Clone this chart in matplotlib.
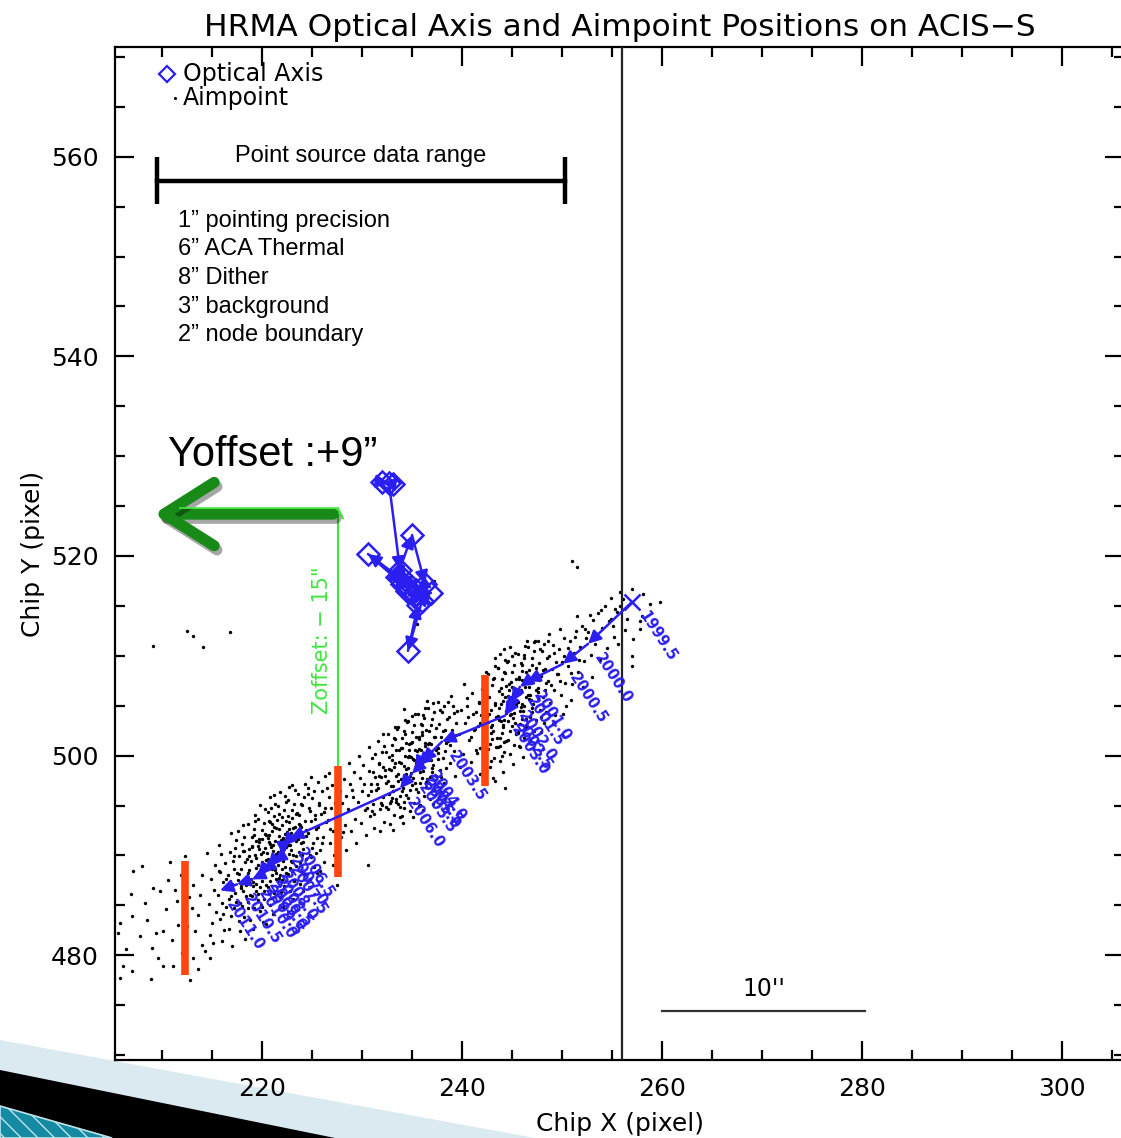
import numpy as np
import matplotlib.pyplot as plt
from matplotlib.patches import Polygon, FancyArrowPatch, ArrowStyle
from matplotlib.ticker import MultipleLocator
from matplotlib import patheffects

BLUE = "#2a1ef0"
RED = "#ff4510"
DGREEN = "#188a18"
LGREEN = "#3fe63f"

# ---------------- aimpoint scatter (chip x, chip y) ----------------
cloud_tail = [(205.8,483.2),(205.6,482.2),(206.1,478.9),(205.8,477.7),(207.0,478.4),(207.1,488.4),(207.0,483.9),
    (208.3,485.2),(208.5,483.5),(209.1,486.7),(209.0,480.7),(209.8,486.4),(209.6,479.7),(210.1,482.4),(210.1,478.9),
    (210.6,487.5),(211.0,481.5),(211.1,478.9),(211.5,485.4),(211.3,486.5),(211.6,483.0),(212.3,489.9),(212.8,477.5),
    (213.1,487.0),(213.0,484.7),(213.3,482.4),(213.1,479.7),(214.0,488.0),(213.8,486.0),(213.6,484.0),(214.0,481.0),
    (214.5,490.2),(214.3,480.4),(214.8,479.7),(206.4,480.6),(207.8,481.9),(208.9,477.6),(210.4,484.6),(212.0,480.2),
    (212.5,482.9),(211.9,488.0),(210.8,489.3),(206.9,486.1),(208.0,488.9),(212.7,485.8),(213.6,478.6),(209.4,482.2)]

cloud_a = [(214.7,485.1),(214.9,487.6),(215.0,483.2),(215.2,486.5),(215.3,489.0),(215.4,484.3),(214.8,482.0),(215.1,481.2),
    (215.6,486.0),(215.7,488.4),(215.8,483.6),(215.9,490.1),(216.0,485.2),(216.1,487.3),(216.2,482.5),(216.3,489.2),
    (216.4,484.8),(216.0,481.4),(215.7,491.0),(216.4,486.6),(216.6,488.0),(216.7,485.6),(216.8,490.3),(216.9,483.9),
    (217.0,487.1),(217.1,489.4),(217.2,484.7),(217.3,486.2),(217.4,491.5),(216.7,482.6),(217.0,480.9),(217.2,488.6),
    (217.4,485.3),(216.9,492.2),(217.6,487.5),(217.7,489.9),(217.8,485.2),(217.9,488.6),(218.0,491.1),(218.1,486.4),
    (218.2,483.8),(218.3,489.3),(218.4,487.0),(217.6,492.4),(217.8,482.4),(218.0,484.9),(218.2,490.4),(218.4,485.9),
    (217.7,488.1),(218.3,481.6),(218.1,493.0),(217.9,486.9),(218.6,488.2),(218.7,490.6),(218.8,486.0),(218.9,489.4),
    (219.0,491.8),(219.1,487.3),(219.2,484.7),(219.3,490.0),(219.4,488.7),(218.6,493.1),(218.8,483.5),(219.0,485.9),
    (219.2,492.6),(219.4,486.4),(218.7,489.9),(219.1,482.6),(219.3,494.0),(218.9,487.6),(219.0,490.9),(219.4,491.4),
    (218.6,485.3),(219.6,489.0),(219.7,491.3),(219.8,486.8),(219.9,490.1),(220.0,492.5),(220.1,488.2),(220.2,485.6),
    (220.3,490.7),(220.4,489.5),(219.6,493.6),(219.8,484.4),(220.0,487.4),(220.2,493.2),(220.4,487.0),(219.7,490.6),
    (220.1,483.3),(220.3,494.6),(219.9,488.6),(220.0,491.6),(220.4,492.0),(219.6,486.1),(220.2,489.1),(219.8,495.1),
    (220.1,490.3),(219.9,485.0),(220.6,489.6),(220.7,492.0),(220.8,487.4),(220.9,490.8),(221.0,493.1),(221.1,488.8),
    (221.2,486.2),(221.3,491.4),(221.4,490.1),(220.6,494.3),(220.8,485.0),(221.0,488.0),(221.2,493.9),(221.4,487.6),
    (220.7,491.3),(221.1,484.1),(221.3,495.2),(220.9,489.3),(221.0,492.4),(221.4,492.7),(220.6,486.8),(221.2,489.9),
    (220.8,495.9),(221.1,491.0),(220.9,485.7),(221.3,488.5),(220.7,493.4),(221.6,490.3),(221.7,492.6),(221.8,488.0),
    (221.9,491.5),(222.0,493.8),(222.1,489.4),(222.2,486.9),(222.3,492.1),(222.4,490.8),(221.6,495.0),(221.8,485.8),
    (222.0,488.6),(222.2,494.5),(222.4,488.2),(221.7,491.9),(222.1,484.8),(222.3,496.0),(221.9,489.9),(222.0,493.0),
    (222.4,493.4),(221.6,487.5),(222.2,490.6),(221.8,496.4),(222.1,491.7),(221.9,486.3),(222.6,491.0),(222.7,493.3),
    (222.8,488.7),(222.9,492.2),(223.0,494.5),(223.1,490.0),(223.2,487.5),(223.3,492.8),(223.4,491.4),(222.6,495.6),
    (222.8,486.4),(223.0,489.3),(223.2,495.2),(223.4,488.9),(222.7,492.6),(223.1,485.6),(223.3,496.6),(222.9,490.5),
    (223.0,493.7),(223.4,494.1),(222.6,488.1),(223.6,491.6),(223.7,494.0),(223.8,489.3),(223.9,492.8),(224.0,495.1),
    (224.1,490.6),(224.2,488.1),(224.3,493.4),(224.4,491.9),(223.6,496.2),(223.8,487.1),(224.0,490.0),(224.2,495.9),
    (224.4,489.6),(223.7,493.1),(224.1,486.4),(224.3,497.2),(223.9,491.2),(224.6,492.2),(224.7,494.7),(224.8,490.0),
    (224.9,493.4),(225.0,495.8),(225.1,491.2),(225.2,488.8),(225.3,494.0),(225.4,492.6),(224.6,496.8),(224.8,487.6),
    (225.0,490.7),(225.2,496.5),(225.4,490.2),(224.9,497.9),(225.6,492.8),(225.7,495.3),(225.8,490.5),(225.9,494.1),
    (226.0,496.5),(226.1,491.8),(226.2,489.3),(226.3,494.7),(226.4,493.3),(225.6,497.4),(225.8,488.4),(226.0,491.2),
    (226.3,498.0),(226.6,493.5),(226.7,495.9),(226.8,491.2),(226.9,494.7),(227.0,497.1),(227.1,492.4),(227.2,490.0),
    (227.3,495.3),(227.4,493.8),(226.7,498.3),(227.1,489.0),(227.6,494.0),(227.8,496.5),(227.9,491.8),(228.0,495.3),
    (228.2,497.7),(228.3,493.0),(228.4,490.5),(227.7,498.6),(228.1,492.3),(228.4,496.0),(228.6,494.6),(228.8,497.2),
    (228.9,492.4),(229.1,495.9),(229.2,498.4),(229.3,493.6),(229.4,491.2),(228.7,499.3),(229.0,496.6)]

cloud_a_core = [(219.35,489.72),(220.83,491.17),(221.57,489.04),(222.46,492.38),(220.12,487.93),(218.74,488.51),
    (221.93,490.66),(223.28,491.85),(220.47,490.29),(219.86,488.08),(222.71,490.12),(221.24,492.83),(218.33,487.36),
    (223.84,493.07),(220.98,488.62),(222.15,491.46),(219.57,490.94),(221.71,487.77),(224.36,492.58),(217.92,486.71),
    (220.31,492.19),(222.92,489.47),(219.08,486.92),(221.46,493.54),(223.52,494.26),(218.97,490.85),(222.33,488.83),
    (220.66,489.14),(224.81,494.47),(217.48,488.26),(221.09,490.48),(219.72,491.66),(223.06,492.71),(220.24,486.44),
    (222.58,493.91),(218.52,489.63),(221.84,491.22),(223.69,490.36),(219.43,487.17),(220.77,493.38),(216.86,485.93),
    (225.27,493.62),(222.04,487.55),(219.15,492.07),(221.35,488.27),(223.91,495.18),(218.09,490.42),(220.58,491.73),
    (222.84,491.03),(219.98,489.36),(225.73,495.02),(216.42,487.64),(221.66,494.11),(224.12,491.38),(220.03,484.86),
    (222.39,495.37),(218.61,484.72),(223.37,489.96),(217.15,489.91),(226.18,494.34),(219.26,493.48),(221.98,485.92),
    (224.58,496.14),(216.08,484.16),(222.67,496.82),(220.88,494.77),(218.22,491.86),(223.15,487.42),(225.46,491.76),
    (217.71,483.42),(226.52,496.71),(219.64,485.58),(221.18,496.03),(224.93,489.81),(215.79,488.35),(222.95,497.10),
    (217.33,490.72),(226.83,492.68),(220.39,483.11),(223.98,488.36)]

cloud_b = [(229.6,495.4),(229.8,497.8),(229.9,493.2),(230.0,496.5),(230.1,499.1),(230.3,494.5),(230.4,492.0),(229.7,500.0),
    (230.2,497.2),(230.6,496.1),(230.7,498.5),(230.8,493.9),(230.9,497.2),(231.0,499.8),(231.1,495.2),(231.2,492.7),
    (231.3,497.9),(231.4,496.6),(230.7,500.9),(231.0,494.4),(231.3,500.2),(231.6,496.8),(231.7,499.2),(231.8,494.6),
    (231.9,497.9),(232.0,500.4),(232.1,495.9),(232.2,493.3),(232.3,498.6),(232.4,497.3),(231.6,501.5),(231.8,492.4),
    (232.0,495.1),(232.2,501.0),(232.4,494.8),(231.7,498.0),(232.1,502.2),(232.6,497.5),(232.7,499.9),(232.8,495.3),
    (232.9,498.6),(233.0,501.1),(233.1,496.5),(233.2,494.0),(233.3,499.3),(233.4,498.0),(232.6,502.2),(232.8,493.1),
    (233.0,495.8),(233.2,501.8),(233.4,495.4),(232.7,498.7),(233.1,492.5),(233.3,502.9),(232.9,497.0),(233.0,500.1),
    (233.4,500.6),(233.6,498.2),(233.7,500.6),(233.8,496.0),(233.9,499.3),(234.0,501.8),(234.1,497.2),(234.2,494.7),
    (234.3,500.0),(234.4,498.7),(233.6,502.9),(233.8,493.8),(234.0,496.5),(234.2,502.5),(234.4,496.1),(233.7,499.4),
    (234.1,493.2),(234.3,503.6),(233.9,497.7),(234.0,500.8),(234.4,501.3),(233.6,495.2),(234.2,499.0),(234.6,498.8),
    (234.7,501.2),(234.8,496.6),(234.9,499.9),(235.0,502.4),(235.1,497.8),(235.2,495.3),(235.3,500.6),(235.4,499.3),
    (234.6,503.5),(234.8,494.4),(235.0,497.1),(235.2,503.1),(235.4,496.7),(234.7,500.0),(235.1,493.8),(235.3,504.2),
    (234.9,498.3),(235.0,501.4),(235.4,501.9),(234.6,495.8),(235.2,499.6),(235.6,499.5),(235.7,501.9),(235.8,497.3),
    (235.9,500.6),(236.0,503.1),(236.1,498.5),(236.2,496.0),(236.3,501.3),(236.4,500.0),(235.6,504.2),(235.8,495.1),
    (236.0,497.8),(236.2,503.8),(236.4,497.4),(235.7,500.7),(236.1,494.5),(236.3,504.8),(235.9,499.0),(236.0,502.1),
    (236.4,502.6),(236.6,500.1),(236.7,502.5),(236.8,497.9),(236.9,501.2),(237.0,503.7),(237.1,499.1),(237.2,496.6),
    (237.3,501.9),(237.4,500.6),(236.6,504.8),(236.8,495.7),(237.0,498.4),(237.2,504.4),(237.4,498.0),(236.7,501.3),
    (237.1,495.2),(236.9,499.6),(237.6,500.8),(237.7,503.2),(237.8,498.6),(237.9,501.9),(238.0,504.4),(238.1,499.8),
    (238.2,497.3),(238.3,502.6),(238.4,501.3),(237.6,505.4),(237.9,496.4),(238.2,505.0),(238.4,498.8),(238.6,501.5),
    (238.7,503.9),(238.8,499.3),(239.0,502.6),(239.1,505.0),(239.2,500.5),(239.3,498.0),(239.4,503.3),(238.9,506.0),
    (239.2,502.0),(239.7,502.2),(239.9,504.6),(240.1,500.2),(240.3,503.3),(240.5,505.8),(240.7,501.6),(240.9,499.4),
    (241.1,504.2),(241.3,502.7),(240.2,507.2),(241.0,506.3),(240.6,503.9),(241.4,500.6),(239.8,498.9),(240.5,505.0),
    (239.5,504.5)]

cloud_b_core = [(235.14,499.62),(234.37,498.11),(236.28,500.93),(233.62,497.44),(235.83,498.37),(234.91,501.28),
    (236.71,499.52),(233.18,498.86),(235.47,500.46),(234.06,496.78),(237.24,501.84),(232.74,496.15),(235.96,502.37),
    (234.62,499.89),(236.49,497.63),(233.89,500.72),(237.63,500.28),(232.31,497.93),(235.29,497.21),(234.28,502.14),
    (236.93,503.06),(233.41,495.68),(238.12,502.47),(231.86,495.27),(235.71,501.63),(234.83,497.94),(237.02,498.75),
    (232.97,499.56),(236.14,504.02),(233.75,494.84),(238.46,503.71),(231.52,497.16),(235.58,496.36),(234.49,503.35),
    (237.37,502.73),(232.55,494.62),(236.62,501.19),(233.27,501.67),(238.83,501.06),(231.24,494.17),(235.02,503.92),
    (234.15,495.32),(237.81,504.59),(232.13,498.84),(236.37,496.84),(233.54,502.71),(239.18,504.23),(230.87,496.48),
    (235.38,498.93),(234.72,500.52),(236.83,500.04),(233.08,496.97),(237.56,499.67),(232.42,500.34),(236.03,499.11),
    (234.54,497.36),(238.27,500.48),(231.71,499.22),(235.87,503.18),(233.96,493.96),(237.14,505.27),(232.86,495.43),
    (239.42,502.11),(230.53,494.79),(236.45,505.46),(234.23,504.63),(238.61,505.38),(231.07,498.34),(235.66,494.92),
    (237.93,497.82)]

cloud_c = [(241.6,503.0),(241.7,505.4),(241.8,500.8),(241.9,504.1),(242.0,506.7),(242.1,502.0),(242.2,499.4),(242.3,504.8),
    (242.4,507.8),(241.8,498.2),(242.6,503.4),(242.7,505.9),(242.8,501.2),(242.9,504.6),(243.0,507.1),(243.1,502.5),
    (243.2,499.8),(243.3,505.3),(243.4,503.9),(242.6,508.2),(242.8,498.9),(243.0,501.7),(243.2,507.8),(243.4,500.9),
    (242.7,504.2),(243.1,497.8),(243.3,509.0),(242.9,502.9),(243.6,504.0),(243.7,506.5),(243.8,501.8),(243.9,505.2),
    (244.0,507.7),(244.1,503.1),(244.2,500.4),(244.3,505.9),(244.4,504.5),(243.6,508.8),(243.8,499.5),(244.0,502.3),
    (244.2,508.4),(244.4,501.5),(243.7,504.8),(244.1,498.4),(244.3,509.6),(243.9,503.5),(244.0,506.2),(244.4,507.0),
    (243.6,500.9),(244.2,503.6),(243.8,510.2),(244.1,505.5),(244.6,504.7),(244.7,507.2),(244.8,502.5),(244.9,505.9),
    (245.0,508.4),(245.1,503.8),(245.2,501.1),(245.3,506.6),(245.4,505.2),(244.6,509.5),(244.8,500.2),(245.0,503.0),
    (245.2,509.1),(245.4,502.2),(244.7,505.5),(245.1,499.2),(245.3,510.3),(244.9,504.2),(245.0,506.9),(245.4,507.7),
    (244.6,501.6),(245.2,504.3),(244.8,510.9),(245.1,506.2),(245.6,505.4),(245.7,507.9),(245.8,503.2),(245.9,506.6),
    (246.0,509.1),(246.1,504.5),(246.2,501.8),(246.3,507.3),(246.4,505.9),(245.6,510.2),(245.8,500.9),(246.0,503.7),
    (246.2,509.8),(246.4,502.9),(245.7,506.2),(246.1,499.9),(246.3,511.0),(245.9,504.9),(246.0,507.6),(246.4,508.4),
    (245.6,502.3),(246.2,505.0),(246.6,506.1),(246.7,508.6),(246.8,503.9),(246.9,507.3),(247.0,509.8),(247.1,505.2),
    (247.2,502.5),(247.3,508.0),(247.4,506.6),(246.6,510.9),(246.8,501.6),(247.0,504.4),(247.2,510.5),(247.4,503.6),
    (246.7,506.9),(247.1,500.8),(246.9,505.6),(247.3,511.5),(247.6,506.8),(247.7,509.3),(247.8,504.6),(247.9,508.0),
    (248.0,510.5),(248.1,505.9),(248.2,503.3),(248.3,508.7),(248.4,507.3),(247.6,511.5),(247.9,502.4),(248.2,511.2),
    (248.4,504.4),(247.7,507.6),(248.6,507.5),(248.7,510.0),(248.8,505.3),(249.0,508.7),(249.1,511.1),(249.2,506.6),
    (249.3,504.1),(249.4,509.4),(248.7,512.2),(249.1,503.2),(249.6,508.2),(249.7,510.7),(249.9,506.1),(250.0,509.4),
    (250.2,511.8),(250.3,507.3),(250.4,505.0),(249.8,512.7),(250.1,504.2),(250.6,509.0),(250.8,511.5),(251.0,507.2),
    (251.2,510.3),(251.4,512.5),(251.6,508.4),(251.8,510.9),(252.0,513.0),(252.2,509.5),(252.4,511.8),(250.9,505.6),
    (252.1,506.9),(251.5,514.0),(252.6,512.4),(252.9,510.1),(253.1,513.6),(253.3,511.2),(253.6,514.3),(253.8,509.6),
    (254.0,512.8),(254.3,515.0),(254.5,510.8),(254.7,513.5),(253.0,507.9),(254.9,515.8)]

cloud_c_core = [(245.12,505.63),(244.36,504.27),(246.28,506.84),(243.71,503.52),(245.84,504.48),(244.93,507.36),
    (246.72,505.72),(243.26,505.04),(245.47,506.52),(244.08,502.86),(247.21,507.93),(242.87,502.24),(245.96,508.44),
    (244.61,505.97),(246.43,503.69),(243.94,506.78),(247.62,506.37),(242.48,504.01),(245.31,503.28),(244.27,508.26),
    (246.97,509.12),(243.47,501.73),(248.14,508.53),(242.06,501.35),(245.72,507.69),(244.82,504.02),(247.03,504.81),
    (243.11,507.64),(246.15,510.08),(243.78,500.92),(248.47,509.77),(241.82,503.22),(245.59,502.41),(244.52,509.42),
    (247.38,508.79),(242.64,500.68),(246.61,507.26),(243.32,509.74),(248.86,507.12),(241.53,500.24),(245.04,509.98),
    (244.17,501.39),(247.82,510.65),(242.29,506.91),(246.36,502.89),(243.58,508.77),(249.21,510.29),(241.17,502.55),
    (245.39,504.99),(244.73,506.58),(246.84,506.11),(243.04,503.04),(247.56,505.73),(242.41,508.41),(246.04,505.17),
    (244.57,503.42),(248.28,506.55),(241.73,505.28),(245.88,509.23),(243.96,500.01),(247.15,511.34),(242.92,499.47),
    (249.46,508.18),(240.93,501.87),(246.47,511.52),(244.24,510.71),(248.63,511.44),(241.35,504.39),(245.66,500.98),
    (247.94,503.87),(250.57,510.82),(251.33,511.90),(249.82,507.48),(252.26,512.71),(250.18,509.93),(251.74,509.62),
    (253.42,512.16),(252.81,514.06),(250.93,508.27),(253.94,514.62)]

cloud_end = [(255.8,516.4),(257.0,516.7),(258.1,516.2),(259.8,515.4),(258.8,515.2),(258.0,514.0),(257.8,512.7),
    (257.1,511.7),(257.0,510.0),(257.0,509.0),(255.5,514.4),(255.1,513.0),(255.8,515.0),(256.1,515.7),(254.9,513.7),
    (255.3,514.7),(257.8,513.5),(256.5,513.7),(255.6,511.2),(256.3,512.6),(255.2,511.9)]

cloud_stray = [(251.0,519.5),(251.5,518.9),(209.1,511.0),(212.5,512.5),(213.1,512.0),(214.1,510.9),(216.8,512.4),
    (237.2,517.5),(235.5,513.2),(243.3,497.5),(244.3,496.8),(230.6,489.0),(227.5,487.0),(225.5,488.2)]

# ---------------- aimpoint track (half-year epochs) ----------------
track_epochs = ["1999.5", "2000.0", "2000.5", "2001.0", "2001.5", "2002.0", "2002.5", "2003.0",
                "2003.5", "2004.0", "2004.5", "2005.0", "2005.5", "2006.0", "2006.5", "2007.0",
                "2007.5", "2008.0", "2008.5", "2009.0", "2009.5", "2010.0", "2010.5", "2011.0"]
track_x = [257.0, 252.6, 250.1, 246.5, 245.8, 245.0, 244.6, 244.3, 238.0, 236.0, 235.6, 235.4,
           235.0, 233.8, 222.8, 222.1, 222.1, 221.1, 220.6, 220.0, 219.6, 219.0, 217.5, 215.8]
track_y = [515.4, 511.2, 509.2, 507.4, 506.9, 505.4, 504.5, 504.0, 501.4, 499.4, 499.0, 498.6,
           498.2, 496.7, 491.7, 490.9, 490.0, 489.4, 488.8, 488.4, 487.9, 487.6, 487.1, 486.5]

# ---------------- optical axis positions ----------------
oa_x = [233.1, 232.0, 232.7, 233.8, 234.3, 233.5, 235.0, 236.3, 235.4, 230.6, 234.0,
        234.8, 236.0, 234.6, 235.6, 236.9, 235.2, 234.5]
oa_y = [527.2, 527.4, 527.3, 518.6, 517.6, 517.9, 522.1, 517.2, 516.6, 520.2, 517.2,
        516.7, 515.5, 510.5, 515.1, 516.3, 516.0, 516.5]

# ---------------- annotations ----------------
bar_x = [212.3, 227.6, 242.3]
bar_lo = [478.0, 487.8, 497.0]
bar_hi = [489.4, 499.0, 508.1]
range_x = [209.5, 250.3]
range_y = 557.6
budget_lines = ["1\u201d pointing precision", "6\u201d ACA Thermal", "8\u201d Dither",
                "3\u201d background", "2\u201d node boundary"]
optical_line_x = 256.0
scale_x = [260.0, 280.3]
scale_y = 474.4

fig = plt.figure(figsize=(11.21, 11.38), dpi=100)

# slide decoration in the lower-left corner (pixel coordinates of the slide)
W, H = 1121.0, 1138.0
def fpoly(pts, **kw):
    p = Polygon([(x / W, 1 - y / H) for x, y in pts], closed=True, transform=fig.transFigure, zorder=-5, **kw)
    fig.patches.append(p)
fpoly([(0, 1040), (535, 1138), (0, 1138)], facecolor="#dbe9f1", edgecolor="none")
fpoly([(0, 1070), (335, 1138), (0, 1138)], facecolor="#000000", edgecolor="none")
fpoly([(0, 1106), (112, 1138), (0, 1138)], facecolor="#158aa3", edgecolor="#bfe3ea", lw=1.2, hatch="\\\\")

ax = fig.add_axes([115 / W, 78 / H, (1124 - 115) / W, (1060 - 47) / H])
ax.set_facecolor("white")
ax.set_xlim(205.3, 306.2)
ax.set_ylim(469.5, 571.0)

for s in ax.spines.values():
    s.set_linewidth(1.6)
ax.xaxis.set_major_locator(MultipleLocator(20))
ax.xaxis.set_minor_locator(MultipleLocator(5))
ax.yaxis.set_major_locator(MultipleLocator(20))
ax.yaxis.set_minor_locator(MultipleLocator(5))
ax.tick_params(which="both", direction="in", top=True, right=True, width=1.6, labelsize=18)
ax.tick_params(which="major", length=14, pad=12)
ax.tick_params(which="minor", length=7)
ax.set_xlabel("Chip X (pixel)", fontsize=18, labelpad=8)
ax.set_ylabel("Chip Y (pixel)", fontsize=18, labelpad=4)
ax.set_title("HRMA Optical Axis and Aimpoint Positions on ACIS\u2212S", fontsize=22.5, pad=8)

# scatter cloud
for cl in (cloud_tail, cloud_a, cloud_a_core, cloud_b, cloud_b_core, cloud_c, cloud_c_core, cloud_end, cloud_stray):
    cx, cy = zip(*cl)
    ax.scatter(cx, cy, s=6, c="black", linewidths=0, zorder=2)

ax.axvline(optical_line_x, color="#222222", lw=1.6, zorder=3)

# red node-boundary bars
ax.vlines(bar_x, bar_lo, bar_hi, color=RED, lw=5.5, zorder=4)

# aimpoint track with arrowheads
for i in range(len(track_x) - 1):
    ax.annotate("", xy=(track_x[i + 1], track_y[i + 1]), xytext=(track_x[i], track_y[i]),
                arrowprops=dict(arrowstyle="-|>", color=BLUE, lw=1.8, mutation_scale=19,
                                shrinkA=0, shrinkB=0), zorder=5)
ax.plot(track_x[0], track_y[0], marker="x", ms=12, mew=1.8, color=BLUE, zorder=5)
for lbl, x, y in zip(track_epochs, track_x, track_y):
    ax.annotate(lbl, (x, y), xytext=(7, -8), textcoords="offset points", rotation=-57,
                rotation_mode="anchor", ha="left", va="center", fontsize=10.5,
                fontweight="bold", color=BLUE, zorder=5)

# optical axis track
for i in range(len(oa_x) - 1):
    ax.annotate("", xy=(oa_x[i + 1], oa_y[i + 1]), xytext=(oa_x[i], oa_y[i]),
                arrowprops=dict(arrowstyle="-|>", color=BLUE, lw=1.8, mutation_scale=19,
                                shrinkA=0, shrinkB=0), zorder=5)
ax.plot(oa_x, oa_y, ls="none", marker="D", ms=11, mfc="none", mec=BLUE, mew=1.8, zorder=5)

# legend
ax.plot(210.5, 568.3, marker="D", ms=8, mfc="none", mec=BLUE, mew=1.6)
ax.plot(211.3, 565.9, marker=".", ms=2.5, color="black")
ax.text(212.1, 568.3, "Optical Axis", fontsize=17, va="center")
ax.text(212.1, 565.9, "Aimpoint", fontsize=17, va="center")

# point source data range
ax.plot(range_x, [range_y, range_y], color="black", lw=3.2, zorder=4)
ax.vlines(range_x, range_y - 2.3, range_y + 2.4, color="black", lw=3.2, zorder=4)
ax.text(sum(range_x) / 2, 560.1, "Point source data range", fontsize=17,
        family="Liberation Sans", ha="center", va="center")
for k, line in enumerate(budget_lines):
    ax.text(211.6, 553.6 - 2.87 * k, line, fontsize=17, family="Liberation Sans", va="center")

# offsets
arrow = FancyArrowPatch((227.4, 524.2), (208.9, 524.2),
                        arrowstyle=ArrowStyle("->", head_length=0.6, head_width=0.38),
                        mutation_scale=60, lw=8, color=DGREEN, capstyle="round", zorder=6)
arrow.set_path_effects([patheffects.SimpleLineShadow(offset=(2, -3), alpha=0.35), patheffects.Normal()])
ax.add_patch(arrow)
ax.plot([211.8, 227.6], [524.8, 524.8], color=LGREEN, lw=1.2, zorder=7)
ax.annotate("", xy=(227.6, 525.0), xytext=(227.6, 498.7),
            arrowprops=dict(arrowstyle="->", color=LGREEN, lw=1.5, mutation_scale=18,
                            shrinkA=0, shrinkB=0), zorder=3)
ax.text(226.0, 511.6, "Zoffset: \u2212 15\"", rotation=90, color=LGREEN, fontsize=15,
        ha="center", va="center")
ax.text(210.6, 530.1, "Yoffset :+9\u201d", fontsize=30, family="Liberation Sans", va="center")

# 10 arcsec scale
ax.plot(scale_x, [scale_y, scale_y], color="#333333", lw=1.6)
ax.text(sum(scale_x) / 2, 476.6, "10''", fontsize=17, ha="center", va="center")

fig.savefig("out.png", dpi=100)
